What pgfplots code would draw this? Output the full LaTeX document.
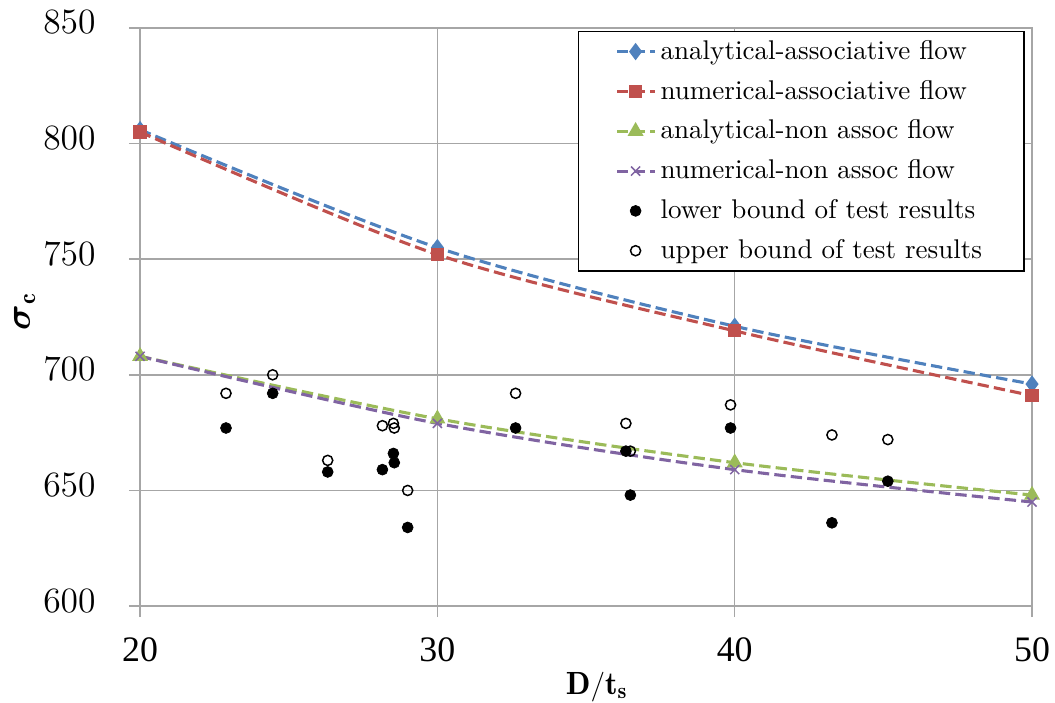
\documentclass[border=0pt]{standalone}
\usepackage{fontspec}
\usepackage{pgfplots}
\pgfplotsset{compat=1.18}
\usepackage{amsmath}
\newfontfamily\libserif{Liberation Serif}
\definecolor{xblue}{HTML}{4F81BD}
\definecolor{xred}{HTML}{C0504D}
\definecolor{xgreen}{HTML}{9BBB59}
\definecolor{xpurple}{HTML}{8064A2}
\definecolor{xgrid}{HTML}{A6A6A6}
\pgfplotsset{
  lineleg/.style={legend image code/.code={\draw[mark repeat=2,mark phase=2,##1] plot coordinates {(0pt,0pt)(7.5pt,0pt)(15pt,0pt)};}},
  scatleg/.style={legend image code/.code={\path (0pt,0pt) (15pt,0pt); \draw[##1] plot coordinates {(7.5pt,0pt)};}},
}
\begin{document}
\begin{tikzpicture}
\begin{axis}[
  width=361pt, height=234pt, scale only axis,
  xmin=20, xmax=50, ymin=600, ymax=850,
  xtick={20,30,40,50}, xticklabels={20,30,40,50},
  ytick={600,650,...,850},
  xtick pos=bottom, ytick pos=left,
  grid=major,
  major grid style={color=xgrid, line width=0.6pt},
  axis line style={xgrid, line width=0.6pt},
  tick style={xgrid, line width=0.6pt},
  tick align=outside, major tick length=4.5pt,
  yticklabel style={font=\fontsize{14}{17}\selectfont, xshift=-10pt, yshift=2.2pt},
  xticklabel style={font=\libserif\fontsize{14.5}{17}\selectfont, yshift=-4.7pt},
  xlabel={$\mathbf{D/t_s}$},
  ylabel={$\boldsymbol{\sigma}_{\mathbf{c}}$},
  xlabel style={font=\fontsize{13}{15}\selectfont, at={([yshift=-35.6pt]axis description cs:0.512,0)}, anchor=base},
  ylabel style={font=\fontsize{14}{16}\selectfont, at={([xshift=-46.7pt]axis description cs:0,0.509)}, anchor=center},
  legend cell align=left,
  legend style={at={(0.992,0.995)}, anchor=north east, draw=black, line width=0.6pt,
    font=\fontsize{10.95}{13}\selectfont, inner xsep=15pt, inner ysep=1.5pt,
    row sep=2.9pt},
  every axis plot/.append style={line width=1.25pt},
]
\addplot[xblue, smooth, lineleg, dash pattern=on 4.6pt off 2.1pt, mark=diamond*, mark size=2.5pt, mark options={solid, fill=xblue}]
  coordinates {(20,806) (30,755) (40,721) (50,696)};
\addlegendentry{analytical-associative flow}
\addplot[xred, smooth, lineleg, dash pattern=on 4.6pt off 2.1pt, mark=square*, mark size=2.05pt, mark options={solid, fill=xred}]
  coordinates {(20,805) (30,752) (40,719) (50,691)};
\addlegendentry{numerical-associative flow}
\addplot[xgreen, smooth, lineleg, dash pattern=on 4.6pt off 2.1pt, mark=triangle*, mark size=2.5pt, mark options={solid, fill=xgreen}]
  coordinates {(20,708) (30,681) (40,662) (50,648)};
\addlegendentry{analytical-non assoc flow}
\addplot[xpurple, smooth, lineleg, dash pattern=on 4.6pt off 2.1pt, mark=x, mark size=2.6pt, mark options={solid, line width=0.6pt}]
  coordinates {(20,708) (30,679) (40,659) (50,645)};
\addlegendentry{numerical-non assoc flow}
\addplot[only marks, scatleg, mark=*, mark size=2.2pt, mark options={fill=black, draw=black, line width=0.3pt}]
  coordinates {(22.89,677) (24.46,692) (26.31,658) (28.15,659) (28.52,666) (28.55,662) (29.0,634)
   (32.63,677) (36.34,667) (36.49,648) (39.86,677) (43.27,636) (45.15,654)};
\addlegendentry{lower bound of test results}
\addplot[only marks, scatleg, mark=o, mark size=2.05pt, mark options={draw=black, fill=white, line width=0.6pt}]
  coordinates {(22.89,692) (24.46,700) (26.31,663) (28.15,678) (28.52,679) (28.55,677) (29.0,650)
   (32.63,692) (36.34,679) (36.49,667) (39.86,687) (43.27,674) (45.15,672)};
\addlegendentry{upper bound of test results}
\end{axis}
\pgfresetboundingbox
\path ([xshift=-56.7pt,yshift=-38.9pt]current axis.south west) rectangle ([xshift=9.3pt,yshift=11.3pt]current axis.north east);
\end{tikzpicture}
\end{document}
